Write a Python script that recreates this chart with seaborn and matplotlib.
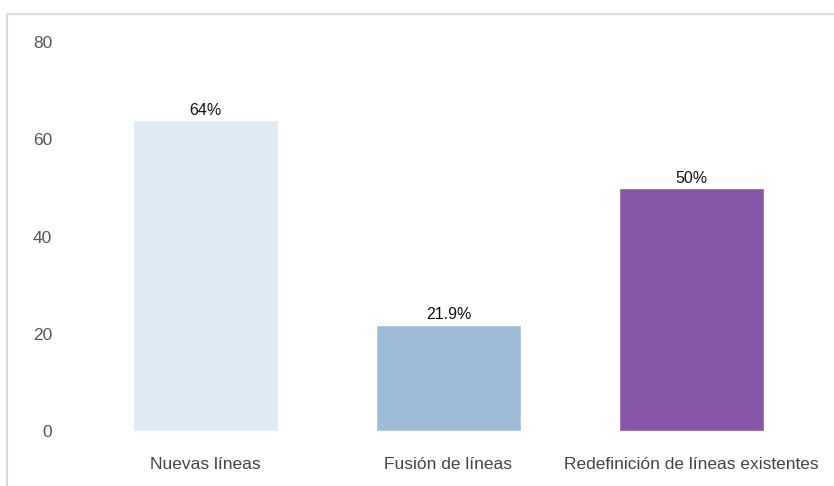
import matplotlib
matplotlib.use("Agg")
import matplotlib.pyplot as plt
import seaborn as sns
import pandas as pd
from matplotlib.lines import Line2D

categories = ["Nuevas líneas", "Fusión de líneas", "Redefinición de líneas existentes"]
values = [64, 21.9, 50]
labels = ["64%", "21.9%", "50%"]
colors = ["#deebf5", "#9ebcda", "#8856a7"]
yticks = [0, 20, 40, 60, 80]

sns.set_theme(style="white")
plt.rcParams['font.family'] = ['Liberation Sans', 'DejaVu Sans']

W, H = 834, 486
fig = plt.figure(figsize=(W / 100, H / 100), dpi=100)
fig.patch.set_facecolor("white")

# axes in pixel coordinates
left_px, right_px = 84, 813
y0_px, y80_px = 431, 42
top_px = 20
ax = fig.add_axes([left_px / W, 1 - y0_px / H, (right_px - left_px) / W, (y0_px - top_px) / H])
ymax = 80 * (y0_px - top_px) / (y0_px - y80_px)

df = pd.DataFrame({"cat": categories, "val": values})
sns.barplot(data=df, x="cat", y="val", hue="cat", palette=colors, width=0.6,
            legend=False, ax=ax, saturation=1)
ax.set_xlim(-0.5, 2.5)
ax.set_ylim(0, ymax)
ax.set_yticks(yticks)
ax.set_xlabel("")
ax.set_ylabel("")
for s in ax.spines.values():
    s.set_visible(False)
ax.tick_params(axis="y", labelsize=12.5, pad=23, length=0)
ax.tick_params(axis="x", labelsize=12.5, pad=19, length=0)
for lab in ax.get_yticklabels():
    lab.set_color("#555555")
for lab in ax.get_xticklabels():
    lab.set_color("#444444")

for i, (v, t) in enumerate(zip(values, labels)):
    ax.annotate(t, (i, v), xytext=(0, 1.5), textcoords="offset points",
                ha="center", va="bottom", fontsize=11.5, color="#111111")

# outer frame lines (top and left)
fig.add_artist(Line2D([7 / W, 1], [1 - 14 / H, 1 - 14 / H], transform=fig.transFigure,
                      color="#dcdcdc", lw=1.6))
fig.add_artist(Line2D([7 / W, 7 / W], [0, 1 - 14 / H], transform=fig.transFigure,
                      color="#dcdcdc", lw=1.6))

fig.savefig("out.png", dpi=100)
